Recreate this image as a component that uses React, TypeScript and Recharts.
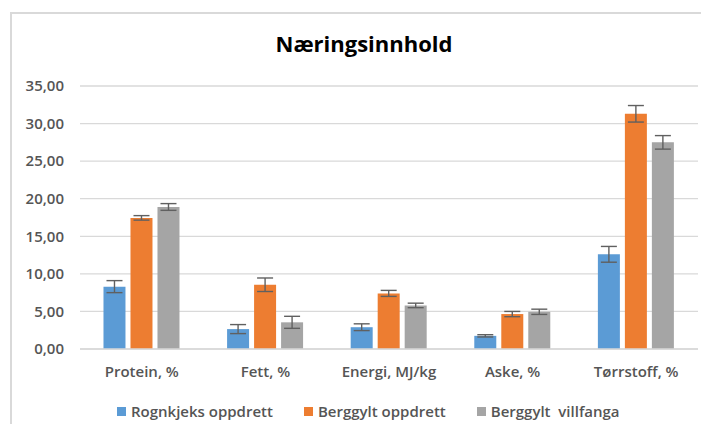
import { BarChart, Bar, XAxis, YAxis, CartesianGrid, ErrorBar } from 'recharts'

// Data
const categories = ['Protein, %', 'Fett, %', 'Energi, MJ/kg', 'Aske, %', 'Tørrstoff, %']
const rognkjeks = [8.3, 2.65, 2.9, 1.75, 12.6]
const rognkjeksErr = [0.8, 0.6, 0.45, 0.15, 1.05]
const berggyltOppdrett = [17.45, 8.55, 7.4, 4.65, 31.3]
const berggyltOppdrettErr = [0.3, 0.9, 0.4, 0.35, 1.1]
const berggyltVill = [18.9, 3.55, 5.8, 4.95, 27.5]
const berggyltVillErr = [0.45, 0.8, 0.3, 0.35, 0.9]
const yTicks = [0, 5, 10, 15, 20, 25, 30, 35]

const SERIES = [
  { key: 'rognkjeks', name: 'Rognkjeks oppdrett', color: '#5B9BD5' },
  { key: 'berggyltOppdrett', name: 'Berggylt oppdrett', color: '#ED7D31' },
  { key: 'berggyltVill', name: 'Berggylt  villfanga', color: '#A5A5A5' },
]

const data = categories.map((c, i) => ({
  name: c,
  rognkjeks: rognkjeks[i],
  rognkjeksErr: rognkjeksErr[i],
  berggyltOppdrett: berggyltOppdrett[i],
  berggyltOppdrettErr: berggyltOppdrettErr[i],
  berggyltVill: berggyltVill[i],
  berggyltVillErr: berggyltVillErr[i],
}))

const FONT = '"Open Sans", sans-serif'
const TEXT = '#555555'
const GRID = '#D9D9D9'

function LegendRow() {
  return (
    <div style={{
      position: 'absolute', left: 117, top: 401, display: 'flex', gap: 31, fontFamily: FONT,
    }}>
      {SERIES.map(s => (
        <div key={s.key} style={{ display: 'flex', alignItems: 'center', gap: 5 }}>
          <span style={{ width: 9, height: 9, background: s.color, display: 'inline-block' }} />
          <span style={{ color: TEXT, fontSize: 15, fontWeight: 600, whiteSpace: 'pre' }}>{s.name}</span>
        </div>
      ))}
    </div>
  )
}

export default function App() {
  return (
    <div style={{ position: 'relative', width: 709, height: 432, margin: -8, background: '#fff', overflow: 'hidden' }}>
      <div style={{ position: 'absolute', left: 10, top: 12, width: 699, height: 2, background: GRID }} />
      <div style={{ position: 'absolute', left: 10, top: 12, width: 2, height: 420, background: GRID }} />
      <div style={{
        position: 'absolute', left: 264, top: 28, width: 200, textAlign: 'center',
        fontFamily: FONT, fontWeight: 700, fontSize: 22, color: '#000',
      }}>
        Næringsinnhold
      </div>
      <BarChart
        width={709}
        height={432}
        data={data}
        margin={{ top: 86, right: 11, bottom: 53, left: 0 }}
        barCategoryGap="19%"
        barGap={5}
        style={{ position: 'absolute', left: 0, top: 0 }}
      >
        <CartesianGrid vertical={false} stroke={GRID} strokeWidth={1.3} />
        <XAxis
          dataKey="name"
          height={30}
          axisLine={{ stroke: GRID, strokeWidth: 1.3 }}
          tickLine={false}
          tickSize={0}
          tickMargin={17}
          tick={{ fill: TEXT, fontSize: 15, fontWeight: 600, fontFamily: FONT }}
          interval={0}
        />
        <YAxis
          width={80}
          domain={[0, 35]}
          ticks={yTicks}
          axisLine={false}
          tickLine={false}
          tickSize={0}
          tickMargin={16}
          tickFormatter={(v: number) => v.toFixed(2).replace('.', ',')}
          tick={{ fill: TEXT, fontSize: 15, fontWeight: 600, fontFamily: FONT }}
        />
        {SERIES.map(s => (
          <Bar key={s.key} dataKey={s.key} name={s.name} fill={s.color} isAnimationActive={false}>
            <ErrorBar dataKey={`${s.key}Err`} width={8} stroke="#606060" strokeWidth={1.4} />
          </Bar>
        ))}
      </BarChart>
      <LegendRow />
    </div>
  )
}
